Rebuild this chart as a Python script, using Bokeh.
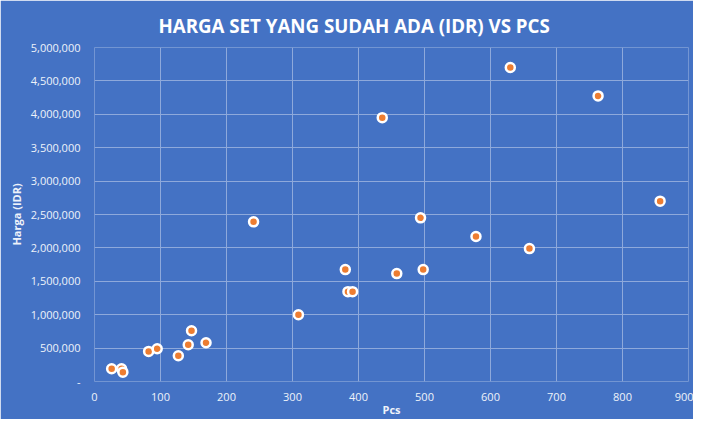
from bokeh.plotting import figure
from bokeh.models import FixedTicker, NumeralTickFormatter, Range1d, ColumnDataSource, Title
from bokeh.embed import file_html
from bokeh.resources import INLINE

pcs = [26, 41, 43, 82, 95, 127, 142, 147, 169, 309, 241, 380, 384, 391, 458, 498, 578, 659, 436, 630, 763, 857, 494]
harga = [190000, 190000, 140000, 450000, 490000, 385000, 550000, 760000, 580000, 1000000,
         2390000, 1675000, 1345000, 1345000, 1615000, 1675000, 2170000, 1990000,
         3950000, 4700000, 4275000, 2700000, 2450000]

x_ticks = [0, 100, 200, 300, 400, 500, 600, 700, 800, 900]
y_ticks = [0, 500000, 1000000, 1500000, 2000000, 2500000, 3000000, 3500000, 4000000, 4500000, 5000000]

title_text = "HARGA SET YANG SUDAH ADA (IDR) VS PCS"
x_label = "Pcs"
y_label = "Harga (IDR)"

BG = "#4472C4"
FONT = "Open Sans"

p = figure(width=693, height=419, output_backend="svg", toolbar_location=None,
           x_range=Range1d(0, 900), y_range=Range1d(0, 5000000),
           min_border_left=94, min_border_right=5, min_border_top=47, min_border_bottom=30)
p.background_fill_color = BG
p.border_fill_color = BG
p.outline_line_color = None

t = Title(text=title_text, align="left", text_color="white", text_font=FONT,
          text_font_size="18.7px", text_font_style="bold", standoff=19, offset=64)
p.add_layout(t, "above")

src = ColumnDataSource(dict(x=pcs, y=harga))
p.scatter("x", "y", source=src, size=9, fill_color="#ED7D31", line_color="white", line_width=2.5)

for ax in (p.xaxis[0], p.yaxis[0]):
    ax.axis_line_color = None
    ax.major_tick_line_color = None
    ax.minor_tick_line_color = None
    ax.major_tick_out = 0
    ax.major_tick_in = 0
    ax.minor_tick_out = 0
    ax.minor_tick_in = 0
    ax.major_label_text_color = "#EEF2FA"
    ax.major_label_text_font = FONT
    ax.major_label_text_font_size = "11px"
    ax.major_label_text_line_height = 1.0
    ax.axis_label_text_color = "#EEF2FA"
    ax.axis_label_text_font = FONT
    ax.axis_label_text_font_size = "11px"
    ax.axis_label_text_font_style = "bold"
    ax.axis_label_text_line_height = 1.0

p.xaxis.ticker = FixedTicker(ticks=x_ticks)
p.yaxis.ticker = FixedTicker(ticks=y_ticks)
p.yaxis.formatter = NumeralTickFormatter(format="0,0")
p.yaxis.major_label_overrides = {0: "-"}
p.xaxis.axis_label = x_label
p.yaxis.axis_label = y_label
p.xaxis.major_label_standoff = 11
p.yaxis.major_label_standoff = 14
p.xaxis.axis_label_standoff = -2
p.yaxis.axis_label_standoff = 4

p.xgrid.ticker = FixedTicker(ticks=x_ticks)
p.ygrid.ticker = FixedTicker(ticks=y_ticks)
p.grid.grid_line_color = "#8EA9DB"
p.grid.grid_line_width = 1

open("out.html", "w").write(file_html(p, INLINE))
